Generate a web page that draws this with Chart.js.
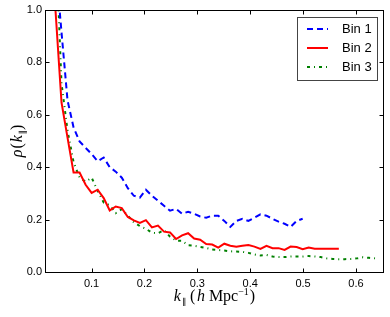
<!DOCTYPE html>
<html><head><meta charset="utf-8">
<script src="https://cdn.jsdelivr.net/npm/chart.js@4"></script>
<style>html,body{margin:0;padding:0;background:#fff}#wrap{width:390px;height:317px}</style>
</head><body><div id="wrap"><canvas id="c" width="390" height="317"></canvas></div>
<script>
const kValues = [0.0318,0.0432,0.0546,0.0660,0.0774,0.0888,0.1002,0.1116,0.1230,0.1344,
  0.1458,0.1572,0.1686,0.1800,0.1914,0.2028,0.2142,0.2256,0.2370,0.2484,
  0.2598,0.2712,0.2826,0.2940,0.3054,0.3168,0.3282,0.3396,0.3510,0.3624,
  0.3738,0.3852,0.3966,0.4080,0.4194,0.4308,0.4422,0.4536,0.4650,0.4764,
  0.4878,0.4992,0.5106,0.5220,0.5334,0.5448,0.5562,0.5676,0.5790,0.5904,
  0.6018,0.6132,0.6246,0.6360];
const bin1 = [1.18,0.916,0.655,0.552,0.498,0.474,0.45,0.423,0.437,0.40,
  0.383,0.36,0.32,0.291,0.284,0.314,0.291,0.272,0.253,0.234,
  0.241,0.222,0.230,0.222,0.212,0.207,0.215,0.215,0.195,0.172,
  0.195,0.203,0.195,0.207,0.220,0.215,0.203,0.192,0.184,0.172,
  0.195,0.203];
const bin2 = [1.0,0.647,0.513,0.380,0.380,0.333,0.302,0.314,0.282,0.235,
  0.250,0.244,0.210,0.197,0.187,0.198,0.170,0.177,0.154,0.151,
  0.126,0.140,0.148,0.128,0.123,0.107,0.105,0.093,0.108,0.100,
  0.096,0.100,0.103,0.097,0.088,0.100,0.091,0.091,0.084,0.097,
  0.095,0.087,0.093,0.089,0.089,0.089,0.089,0.089];
const bin3 = [1.3,0.72,0.54,0.42,0.36,0.345,0.36,0.31,0.265,0.255,
  0.225,0.24,0.215,0.19,0.175,0.165,0.15,0.148,0.16,0.135,
  0.12,0.119,0.102,0.100,0.096,0.092,0.086,0.084,0.082,0.079,
  0.078,0.077,0.073,0.067,0.063,0.065,0.059,0.057,0.057,0.059,
  0.059,0.059,0.061,0.059,0.057,0.052,0.050,0.049,0.049,0.050,
  0.052,0.056,0.054,0.052];
const seriesNames = ['Bin 1','Bin 2','Bin 3'];
const xTicks = [0.1,0.2,0.3,0.4,0.5,0.6];
const yTicks = [0.0,0.2,0.4,0.6,0.8,1.0];

function toPoints(vals){ return vals.map((v,i)=>({x:kValues[i], y:v})); }

const SERIF = '"Liberation Serif","DejaVu Serif",serif';
function drawRich(ctx, segs, cx, baseY){
  let w = 0;
  segs.forEach(s=>{ ctx.font = s.font; s.w = ctx.measureText(s.t).width + (s.pad||0); w += s.w; });
  let x = cx - w/2;
  ctx.textBaseline = 'alphabetic'; ctx.textAlign = 'left';
  segs.forEach(s=>{ ctx.font = s.font; ctx.fillText(s.t, x, baseY + (s.dy||0)); x += s.w; });
}

const framePlugin = {
  id:'frame',
  afterDatasetsDraw(chart){
    const {ctx, chartArea:a, scales:{x,y}} = chart;
    ctx.save();
    ctx.strokeStyle='#000'; ctx.lineWidth=1; ctx.setLineDash([]);
    const L=Math.round(a.left)+0.5, R=Math.round(a.right)-0.5, T=Math.round(a.top)+0.5, B=Math.round(a.bottom)+0.5;
    ctx.beginPath();
    xTicks.forEach(v=>{const p=Math.round(x.getPixelForValue(v))+0.5; ctx.moveTo(p,B); ctx.lineTo(p,B-4); ctx.moveTo(p,T); ctx.lineTo(p,T+4);});
    yTicks.forEach(v=>{const p=Math.round(y.getPixelForValue(v))+0.5; ctx.moveTo(L,p); ctx.lineTo(L+4,p); ctx.moveTo(R,p); ctx.lineTo(R-4,p);});
    ctx.stroke();
    ctx.strokeRect(L,T,R-L,B-T);
    ctx.restore();
  },
  afterDraw(chart){
    const {ctx, chartArea:a} = chart;
    ctx.save();
    // legend
    const bx=297.5, by=17.5, bw=80, bh=63;
    ctx.fillStyle='#fff'; ctx.fillRect(bx,by,bw,bh);
    ctx.strokeStyle='#444'; ctx.lineWidth=1; ctx.setLineDash([]); ctx.strokeRect(bx,by,bw,bh);
    const rows=[29,48,67];
    chart.data.datasets.forEach((ds,i)=>{
      ctx.beginPath(); ctx.strokeStyle=ds.borderColor; ctx.lineWidth=ds.borderWidth;
      ctx.setLineDash(ds.borderDash||[]); ctx.lineCap='butt';
      ctx.moveTo(307,rows[i]); ctx.lineTo(328,rows[i]); ctx.stroke();
      ctx.setLineDash([]);
      ctx.fillStyle='#000'; ctx.font='13px "Liberation Sans",Arial,sans-serif';
      ctx.textBaseline='middle'; ctx.textAlign='left';
      ctx.fillText(ds.label, 342, rows[i]+0.5);
    });
    // x title
    ctx.fillStyle='#000';
    const cx=(a.left+a.right)/2;
    drawRich(ctx,[
      {t:'k', font:'italic 16px '+SERIF, pad:1},
      {t:'\u2225', font:'9px '+SERIF, dy:4},
      {t:' (', font:'16px '+SERIF, pad:1.5},
      {t:'h', font:'italic 16px '+SERIF},
      {t:' Mpc', font:'16px '+SERIF},
      {t:'\u22121', font:'10px '+SERIF, dy:-6, pad:1},
      {t:')', font:'16px '+SERIF}
    ], cx, 301);
    // y title
    ctx.translate(22, (a.top+a.bottom)/2);
    ctx.rotate(-Math.PI/2);
    drawRich(ctx,[
      {t:'\u03C1', font:'italic 16px '+SERIF, pad:1},
      {t:'(', font:'16px '+SERIF, pad:1},
      {t:'k', font:'italic 16px '+SERIF, pad:1},
      {t:'\u2225', font:'9px '+SERIF, dy:4},
      {t:')', font:'16px '+SERIF}
    ], 0, 0);
    ctx.restore();
  }
};

const tickFont = {family:'"Liberation Sans",Arial,sans-serif', size:11};
new Chart(document.getElementById('c'), {
  type:'line',
  data:{datasets:[
    {label:seriesNames[0], data:toPoints(bin1), borderColor:'#0000ff', borderWidth:2, borderDash:[6,4], pointRadius:0, tension:0, fill:false, clip:0},
    {label:seriesNames[1], data:toPoints(bin2), borderColor:'#ff0000', borderWidth:2, pointRadius:0, tension:0, fill:false, clip:0},
    {label:seriesNames[2], data:toPoints(bin3), borderColor:'#008000', borderWidth:2, borderDash:[3,4,1,4], pointRadius:0, tension:0, fill:false, clip:0}
  ]},
  options:{
    responsive:false, animation:false, devicePixelRatio:1,
    layout:{padding:{top:10,right:6,left:0,bottom:0}},
    plugins:{legend:{display:false}, tooltip:{enabled:false}},
    scales:{
      x:{type:'linear', min:0.012, max:0.653,
        grid:{display:false, drawTicks:false}, border:{display:false},
        ticks:{font:tickFont, color:'#000', padding:5, autoSkip:false, maxRotation:0, callback:v=>v.toFixed(1)},
        afterBuildTicks:s=>{s.ticks = xTicks.map(v=>({value:v}));},
        afterFit:s=>{s.height=45;}},
      y:{type:'linear', min:0, max:1,
        grid:{display:false, drawTicks:false}, border:{display:false},
        ticks:{font:tickFont, color:'#000', padding:3, autoSkip:false, callback:v=>v.toFixed(1)},
        afterBuildTicks:s=>{s.ticks = yTicks.map(v=>({value:v}));},
        afterFit:s=>{s.width=45;}}
    }
  },
  plugins:[framePlugin]
});
</script></body></html>
